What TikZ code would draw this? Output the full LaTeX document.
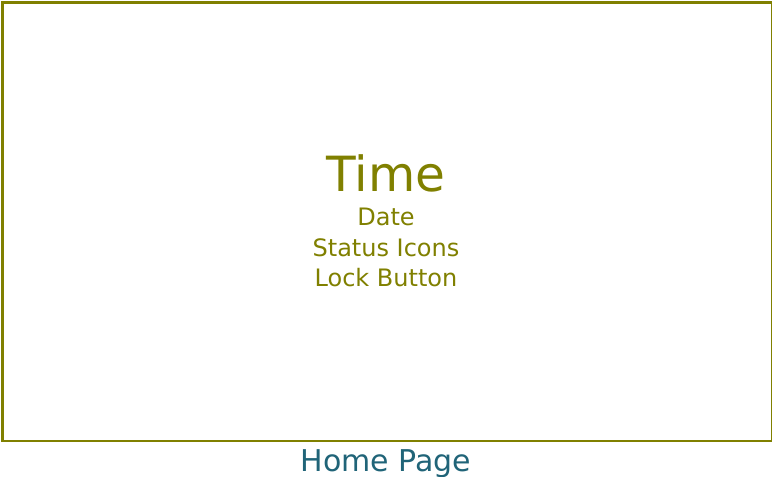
\documentclass[tikz,border=0pt]{standalone}
\usepackage{fontspec}
\setmainfont{DejaVu Sans}
\definecolor{olivec}{HTML}{808000}
\definecolor{tealc}{HTML}{206478}
\begin{document}
\begin{tikzpicture}[x=1pt,y=-1pt,
  lbl/.style={text=olivec,inner sep=0pt,anchor=base},
  small/.style={font=\fontsize{24}{24}\selectfont},
  frame/.style={draw=olivec,line width=2.5pt}]
\useasboundingbox (0,0) rectangle (772,477);
\node[frame,minimum width=769.5pt,minimum height=438.5pt,inner sep=0pt,anchor=north west] (screen) at (1.25,1.25) {};
\node[lbl,font=\fontsize{48.5}{48.5}\selectfont] (time) at (386,191) {Time};
\node[lbl,small] (date) at (386,225) {Date};
\node[lbl,small] (status) at (386,256) {Status Icons};
\node[lbl,small] (lock) at (386,286) {Lock Button};
\node[lbl,text=tealc,font=\fontsize{30}{30}\selectfont] (home) at (386,471) {Home Page};
\end{tikzpicture}
\end{document}
